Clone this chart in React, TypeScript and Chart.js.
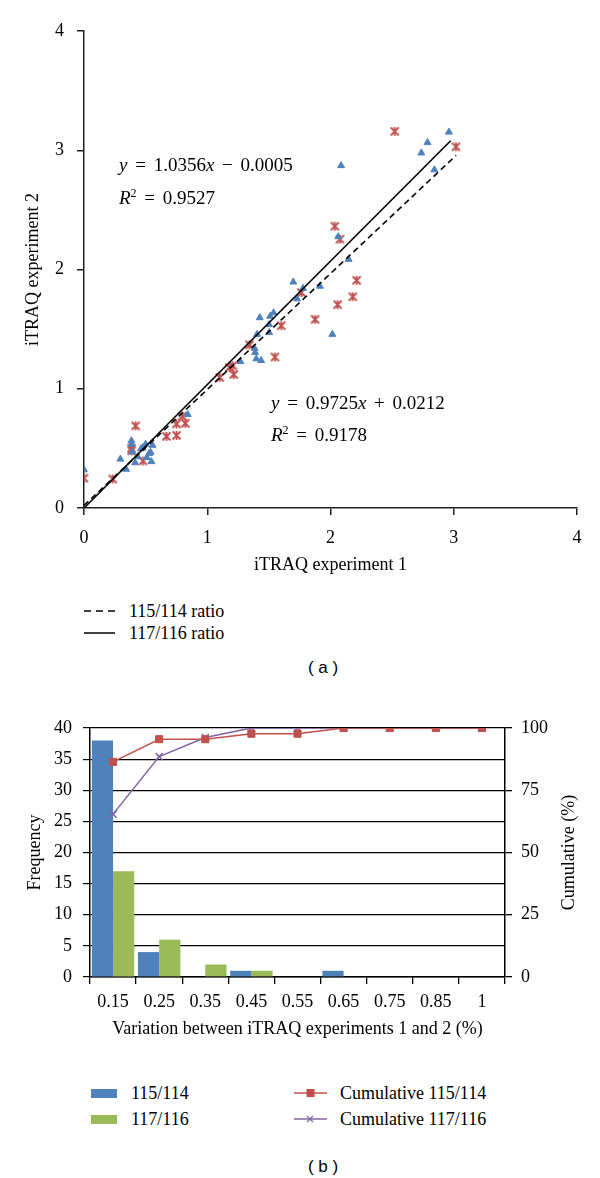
import React, { useEffect, useRef } from "react";
import { Chart, registerables } from "chart.js";
Chart.register(...registerables);

const SERIF = '"Liberation Serif", "Times New Roman", serif';
const SANS = '"Liberation Sans", Arial, sans-serif';
const BLUE = "#4F81BD";
const RED = "#C0504D";
const GREEN = "#9BBB59";
const PURPLE = "#8064A2";
const AXIS = "#222";

// ---------- (a) scatter data ----------
const triangleX = [0, 0.295, 0.342, 0.385, 0.387, 0.39, 0.415, 0.435, 0.463, 0.477, 0.5, 0.51, 0.528, 0.54, 0.547, 0.556, 0.842, 1.269, 1.389, 1.384, 1.404, 1.426, 1.398, 1.437, 1.502, 1.502, 1.51, 1.538, 1.698, 1.729, 1.777, 1.914, 2.015, 2.063, 2.086, 2.147, 2.737, 2.787, 2.843, 2.961];
const triangleY = [0.32, 0.41, 0.325, 0.564, 0.535, 0.47, 0.38, 0.43, 0.497, 0.506, 0.535, 0.424, 0.456, 0.468, 0.389, 0.526, 0.784, 1.228, 1.304, 1.339, 1.456, 1.596, 1.251, 1.237, 1.471, 1.538, 1.608, 1.637, 1.895, 1.754, 1.842, 1.86, 1.456, 2.275, 2.871, 2.085, 2.977, 3.064, 2.836, 3.152];
const starX = [0, 0.233, 0.385, 0.386, 0.419, 0.479, 0.669, 0.751, 0.751, 0.822, 0.798, 1.102, 1.179, 1.207, 1.215, 1.342, 1.549, 1.6, 1.763, 1.875, 2.035, 2.077, 2.058, 2.181, 2.212, 2.521, 3.018];
const starY = [0.25, 0.243, 0.5, 0.48, 0.689, 0.395, 0.601, 0.609, 0.705, 0.71, 0.77, 1.095, 1.178, 1.193, 1.12, 1.368, 1.266, 1.529, 1.807, 1.582, 2.363, 2.254, 1.705, 1.772, 1.909, 3.158, 3.029];
const fit115X = [0, 3.02];
const fit115Y = [0.0212, 2.958];
const fit117X = [0, 2.975];
const fit117Y = [-0.0005, 3.08];

// ---------- (b) histogram data ----------
const binLabels = ["0.15", "0.25", "0.35", "0.45", "0.55", "0.65", "0.75", "0.85", "1"];
const freq115 = [38, 4, 0, 1, 0, 1, 0, 0, 0];
const freq117 = [17, 6, 2, 1, 0, 0, 0, 0, 0];
const cum115 = [86.4, 95.5, 95.5, 97.7, 97.7, 100, 100, 100, 100];
const cum117 = [65.4, 88.5, 96.2, 100, 100, 100, 100, 100, 100];

function starMarker(color: string) {
  const c = document.createElement("canvas");
  c.width = 11;
  c.height = 11;
  const g = c.getContext("2d")!;
  g.strokeStyle = color;
  g.lineWidth = 1.8;
  g.beginPath();
  g.moveTo(1.5, 1.5);
  g.lineTo(9.5, 9.5);
  g.moveTo(9.5, 1.5);
  g.lineTo(1.5, 9.5);
  g.moveTo(5.5, 1);
  g.lineTo(5.5, 10);
  g.stroke();
  return c;
}

const tickFont = { family: SERIF, size: 18 };

function ScatterA() {
  const ref = useRef<HTMLCanvasElement>(null);
  useEffect(() => {
    const star = starMarker(RED);
    const chart = new Chart(ref.current!, {
      type: "scatter",
      data: {
        datasets: [
          {
            label: "117/116 ratio",
            data: fit117X.map((x, i) => ({ x, y: fit117Y[i] })),
            showLine: true,
            borderColor: "#000",
            borderWidth: 1.6,
            pointRadius: 0,
          },
          {
            label: "115/114 ratio",
            data: fit115X.map((x, i) => ({ x, y: fit115Y[i] })),
            showLine: true,
            borderColor: "#000",
            borderWidth: 1.6,
            borderDash: [6, 4],
            pointRadius: 0,
          },
          {
            label: "115/114",
            data: triangleX.map((x, i) => ({ x, y: triangleY[i] })),
            pointStyle: "triangle",
            pointRadius: 4,
            backgroundColor: BLUE,
            borderColor: BLUE,
            borderWidth: 1,
          },
          {
            label: "117/116",
            data: starX.map((x, i) => ({ x, y: starY[i] })),
            pointStyle: star as any,
            pointRadius: 5,
          },
        ],
      },
      options: {
        responsive: false,
        animation: false,
        events: [],
        layout: { padding: { top: 31, right: 23, left: 0, bottom: 0 } },
        plugins: { legend: { display: false }, tooltip: { enabled: false } },
        scales: {
          x: {
            type: "linear",
            min: 0,
            max: 4,
            ticks: { stepSize: 1, color: "#000", font: tickFont, padding: 12 },
            grid: { drawOnChartArea: false, drawTicks: true, tickLength: 7, color: AXIS, lineWidth: 1.5 },
            border: { display: true, color: AXIS, width: 1.5 },
            title: { display: true, text: "iTRAQ experiment 1", color: "#000", font: tickFont, padding: { top: 0, bottom: 4 } },
            afterFit: (s: any) => {
              s.height = 72;
            },
          },
          y: {
            type: "linear",
            min: 0,
            max: 4,
            ticks: { stepSize: 1, color: "#000", font: tickFont, padding: 13 },
            grid: { drawOnChartArea: false, drawTicks: true, tickLength: 7, color: AXIS, lineWidth: 1.5 },
            border: { display: true, color: AXIS, width: 1.5 },
            title: { display: true, text: "iTRAQ experiment 2", color: "#000", font: tickFont, padding: { top: 22, bottom: 0 } },
            afterFit: (s: any) => {
              s.width = 84;
            },
          },
        },
      } as any,
    });
    return () => chart.destroy();
  }, []);
  return <canvas ref={ref} width={600} height={580} style={{ position: "absolute", left: 0, top: 0 }} />;
}

const rightTitle = {
  id: "rightTitle",
  afterDraw(chart: any) {
    const { ctx, chartArea } = chart;
    ctx.save();
    ctx.translate(569, (chartArea.top + chartArea.bottom) / 2);
    ctx.rotate(-Math.PI / 2);
    ctx.font = `18px ${SERIF}`;
    ctx.fillStyle = "#000";
    ctx.textAlign = "center";
    ctx.textBaseline = "middle";
    ctx.fillText("Cumulative (%)", 0, 0);
    ctx.restore();
  },
};

function HistB() {
  const ref = useRef<HTMLCanvasElement>(null);
  useEffect(() => {
    const chart = new Chart(ref.current!, {
      type: "bar",
      data: {
        labels: binLabels,
        datasets: [
          {
            type: "line",
            label: "Cumulative 115/114",
            data: cum115,
            borderColor: RED,
            backgroundColor: RED,
            borderWidth: 1.5,
            pointStyle: "rect",
            pointRadius: 5,
            pointBorderWidth: 1,
            yAxisID: "y1",
            order: 1,
          },
          {
            type: "line",
            label: "Cumulative 117/116",
            data: cum117,
            borderColor: PURPLE,
            backgroundColor: PURPLE,
            borderWidth: 1.5,
            pointStyle: "crossRot",
            pointRadius: 5,
            pointBorderWidth: 1.5,
            yAxisID: "y1",
            order: 1,
          },
          {
            type: "bar",
            label: "115/114",
            data: freq115,
            backgroundColor: BLUE,
            borderWidth: 0,
            categoryPercentage: 0.92,
            barPercentage: 1,
            yAxisID: "y",
            order: 2,
          },
          {
            type: "bar",
            label: "117/116",
            data: freq117,
            backgroundColor: GREEN,
            borderWidth: 0,
            categoryPercentage: 0.92,
            barPercentage: 1,
            yAxisID: "y",
            order: 2,
          },
        ],
      },
      options: {
        responsive: false,
        animation: false,
        events: [],
        layout: { padding: { top: 28, right: 0, left: 0, bottom: 0 } },
        plugins: { legend: { display: false }, tooltip: { enabled: false } },
        scales: {
          x: {
            type: "category",
            offset: true,
            ticks: { color: "#000", font: tickFont, padding: 7 },
            grid: { offset: true, drawOnChartArea: false, drawTicks: true, tickLength: 7, color: "#000", lineWidth: 1.3 },
            border: { display: true, color: "#000", width: 1.5 },
            title: { display: true, text: "Variation between iTRAQ experiments 1 and 2 (%)", color: "#000", font: tickFont, padding: { top: 0, bottom: 5 } },
            afterFit: (s: any) => {
              s.height = 68;
            },
          },
          y: {
            position: "left",
            min: 0,
            max: 40,
            ticks: { stepSize: 5, color: "#000", font: tickFont, padding: 11 },
            grid: { drawOnChartArea: true, drawTicks: true, tickLength: 7, color: "#000", lineWidth: 1.2 },
            border: { display: true, color: "#000", width: 1.5 },
            title: { display: true, text: "Frequency", color: "#000", font: tickFont, padding: { top: 24, bottom: 0 } },
            afterFit: (s: any) => {
              s.width = 90;
            },
          },
          y1: {
            position: "right",
            min: 0,
            max: 100,
            ticks: { stepSize: 25, color: "#000", font: tickFont, padding: 9 },
            grid: { drawOnChartArea: false, drawTicks: true, tickLength: 7, color: "#000", lineWidth: 1.3 },
            border: { display: true, color: "#000", width: 1.5 },
            afterFit: (s: any) => {
              s.width = 95;
            },
          },
        },
      } as any,
      plugins: [rightTitle],
    });
    return () => chart.destroy();
  }, []);
  return <canvas ref={ref} width={600} height={345} style={{ position: "absolute", left: 0, top: 700 }} />;
}

function Txt(props: { x: number; y: number; children: any; size?: number; family?: string; center?: boolean }) {
  const { x, y, children, size = 18, family = SERIF, center = false } = props;
  return (
    <div
      style={{
        position: "absolute",
        left: center ? x - 100 : x,
        width: center ? 200 : undefined,
        textAlign: center ? "center" : "left",
        top: y - 12,
        height: 24,
        lineHeight: "24px",
        fontSize: size,
        fontFamily: family,
        whiteSpace: "nowrap",
        color: "#000",
      }}
    >
      {children}
    </div>
  );
}

const sup = (t: string) => (
  <span style={{ fontSize: 12, position: "relative", top: -7 }}>{t}</span>
);

export default function App() {
  return (
    <div style={{ position: "absolute", left: 0, top: 0, width: 600, height: 1178, background: "#fff", overflow: "hidden" }}>
      <ScatterA />
      <Txt x={119} y={165} size={19}>
        <span style={{ wordSpacing: 3 }}>
          <i>y</i> = 1.0356<i>x</i> − 0.0005
        </span>
      </Txt>
      <Txt x={119} y={198} size={19}>
        <span style={{ wordSpacing: 3 }}>
          <i>R</i>
          {sup("2")} = 0.9527
        </span>
      </Txt>
      <Txt x={271} y={403} size={19}>
        <span style={{ wordSpacing: 3 }}>
          <i>y</i> = 0.9725<i>x</i> + 0.0212
        </span>
      </Txt>
      <Txt x={271} y={435} size={19}>
        <span style={{ wordSpacing: 3 }}>
          <i>R</i>
          {sup("2")} = 0.9178
        </span>
      </Txt>

      {/* legend (a) */}
      <svg width={40} height={30} style={{ position: "absolute", left: 84, top: 597 }}>
        <line x1={0} y1={14} x2={31} y2={14} stroke="#000" strokeWidth={1.5} strokeDasharray="7,5" />
      </svg>
      <Txt x={129} y={611}>115/114 ratio</Txt>
      <svg width={40} height={30} style={{ position: "absolute", left: 84, top: 619 }}>
        <line x1={0} y1={14} x2={31} y2={14} stroke="#000" strokeWidth={1.5} />
      </svg>
      <Txt x={129} y={633}>117/116 ratio</Txt>
      <Txt x={323} y={668} size={17} family={SANS} center>
        ( a )
      </Txt>

      <HistB />

      {/* legend (b) */}
      <div style={{ position: "absolute", left: 91, top: 1089, width: 26, height: 9, background: BLUE }} />
      <Txt x={131} y={1093}>115/114</Txt>
      <div style={{ position: "absolute", left: 91, top: 1115, width: 26, height: 9, background: GREEN }} />
      <Txt x={131} y={1119}>117/116</Txt>
      <svg width={40} height={20} style={{ position: "absolute", left: 294, top: 1083 }}>
        <line x1={0} y1={10} x2={33} y2={10} stroke={RED} strokeWidth={1.5} />
        <rect x={12.5} y={6} width={8} height={8} fill={RED} />
      </svg>
      <Txt x={340} y={1093}>Cumulative 115/114</Txt>
      <svg width={40} height={20} style={{ position: "absolute", left: 294, top: 1109 }}>
        <line x1={0} y1={10} x2={33} y2={10} stroke={PURPLE} strokeWidth={1.5} />
        <line x1={13} y1={7} x2={19} y2={13} stroke={PURPLE} strokeWidth={1.3} />
        <line x1={19} y1={7} x2={13} y2={13} stroke={PURPLE} strokeWidth={1.3} />
      </svg>
      <Txt x={340} y={1119}>Cumulative 117/116</Txt>
      <Txt x={323} y={1167} size={17} family={SANS} center>
        ( b )
      </Txt>
    </div>
  );
}
